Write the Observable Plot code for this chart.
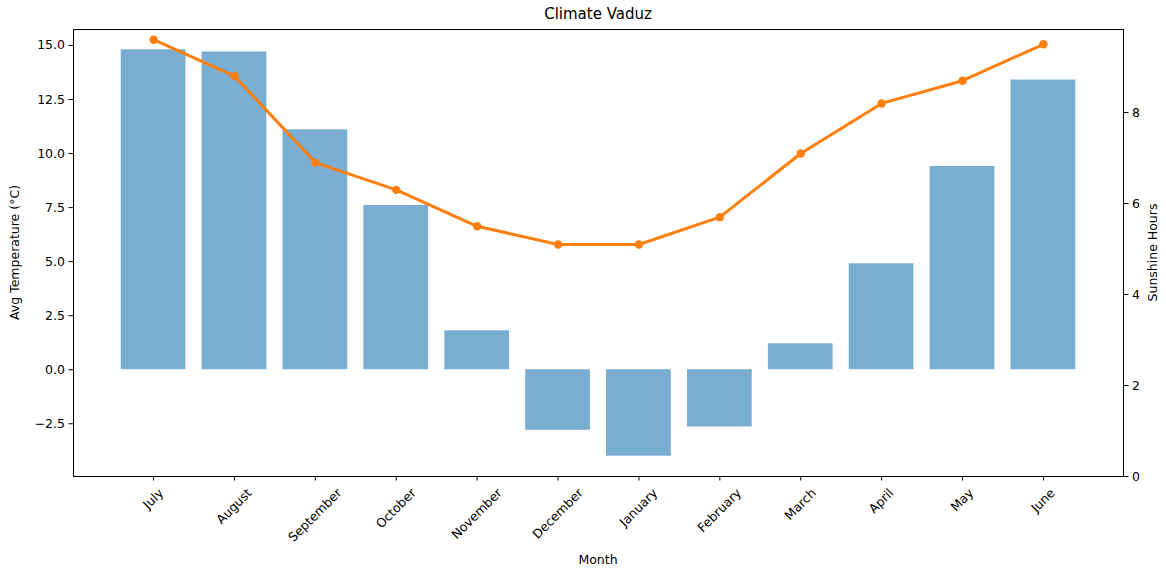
<!DOCTYPE html>
<html><head><meta charset="utf-8">
<script src="https://cdn.jsdelivr.net/npm/d3@7"></script>
<script src="https://cdn.jsdelivr.net/npm/@observablehq/plot@0.6"></script>
<style>
html,body{margin:0;padding:0;background:#fff;}
#chart{position:relative;width:1166px;height:570px;font-family:"DejaVu Sans",sans-serif;}
#chart svg{position:absolute;left:0;top:0;}
</style></head><body><div id="chart"></div>
<script>
const months = ["July","August","September","October","November","December","January","February","March","April","May","June"];
const avgTemp = [14.8,14.7,11.1,7.6,1.8,-2.8,-4.0,-2.65,1.2,4.9,9.4,13.4];
const sunshine = [9.6,8.8,6.9,6.3,5.5,5.1,5.1,5.7,7.1,8.2,8.7,9.5];
const tempTicks = [-2.5,0,2.5,5,7.5,10,12.5,15];
const sunTicks = [0,2,4,6,8];
const title = "Climate Vaduz";
const xLabel = "Month", yLeftLabel = "Avg Temperature (°C)", yRightLabel = "Sunshine Hours";

const W=1166,H=570, mL=73, mR=43, mT=29, mB=94;
const FONT = 12.5;
const data = months.map((m,i)=>({month:m,temp:avgTemp[i],sun:sunshine[i]}));
const xOpts = {type:"band", domain: months, paddingInner:0.2, paddingOuter:0.59, align:0.5, round:false};
const common = {width:W,height:H,marginLeft:mL,marginRight:mR,marginTop:mT,marginBottom:mB,
  style:{fontFamily:"DejaVu Sans", fontSize: FONT+"px", background:"transparent", color:"#000", overflow:"visible"}};

const tMin = d3.min(avgTemp), tMax = d3.max(avgTemp), tPad = 0.05*(tMax-tMin);
const sMax = d3.max(sunshine), sMin = d3.min(sunshine), sPad = 0.05*(sMax-sMin);

const p1 = Plot.plot({...common,
  x:{...xOpts, label:null},
  y:{domain:[tMin-tPad,tMax+tPad], label:null},
  marks:[
    Plot.barY(data,{x:"month", y:"temp", fill:"#1f77b4", fillOpacity:0.6}),
    Plot.axisY({ticks: tempTicks, tickFormat: d3.format(".1f"), tickSize:4.5, tickPadding:4, label:null}),
    Plot.axisX({tickSize:4.5, tickRotate:-45, tickPadding:4, label:null}),
    Plot.frame({stroke:"#000", strokeWidth:1})
  ]});

const p2 = Plot.plot({...common,
  x:{...xOpts, axis:null},
  y:{domain:[0, sMax+sPad], label:null},
  marks:[
    Plot.line(data,{x:"month", y:"sun", stroke:"#ff7f0e", strokeWidth:3}),
    Plot.dot(data,{x:"month", y:"sun", r:4.2, fill:"#ff7f0e", stroke:null}),
    Plot.axisY({anchor:"right", ticks: sunTicks, tickSize:4.5, tickPadding:4, label:null})
  ]});

// matplotlib-style centered rotated x tick labels
const xs = p1.scale("x");
const ctx = document.createElement("canvas").getContext("2d");
ctx.font = `${FONT}px "DejaVu Sans"`;
const lblGroup = p1.querySelector('g[aria-label="x-axis tick label"]');
if (lblGroup) {
  lblGroup.removeAttribute("transform");
  lblGroup.querySelectorAll("text").forEach(t => {
    const m = t.textContent;
    const w = ctx.measureText(m).width, h = FONT*1.164;
    const cx = xs.apply(m) + xs.bandwidth/2;
    const cy = (H-mB) + 9.5 + (w+h)*Math.SQRT1_2/2;
    t.removeAttribute("x"); t.removeAttribute("y");
    t.setAttribute("transform", `translate(${cx},${cy}) rotate(-45)`);
    t.setAttribute("text-anchor","middle");
    t.setAttribute("dy","0.35em");
  });
}

const s1 = d3.select(p1);
s1.append("text").attr("x", (mL + W - mR)/2).attr("y", 19).attr("text-anchor","middle")
  .attr("font-size", 15).attr("fill","#000").text(title);
s1.append("text").attr("x", (mL + W - mR)/2).attr("y", 563.5).attr("text-anchor","middle")
  .attr("fill","#000").text(xLabel);
s1.append("text").attr("transform", `translate(19,${(mT + H - mB)/2}) rotate(-90)`).attr("text-anchor","middle")
  .attr("fill","#000").text(yLeftLabel);
s1.append("text").attr("transform", `translate(1156.5,${(mT + H - mB)/2}) rotate(-90)`).attr("text-anchor","middle")
  .attr("fill","#000").text(yRightLabel);

const chart = document.getElementById("chart");
chart.appendChild(p1);
chart.appendChild(p2);
</script></body></html>
